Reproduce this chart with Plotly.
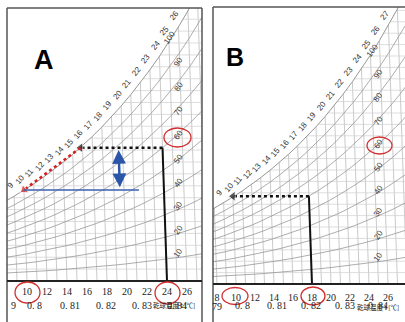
import numpy as np
import plotly.graph_objects as go

W, H = 405, 322
P_ATM = 101.325

# saturation vapour pressure table (kPa) at 1 degC steps
table_t = list(range(5, 31))
table_ps = [0.8726, 0.9354, 1.0021, 1.0730, 1.1482, 1.2282, 1.3129, 1.4028,
            1.4981, 1.5990, 1.7058, 1.8188, 1.9384, 2.0647, 2.1983, 2.3393,
            2.4882, 2.6453, 2.8111, 2.9858, 3.1699, 3.3639, 3.5681, 3.7831,
            4.0092, 4.2467]

rh_levels = [10, 20, 30, 40, 50, 60, 70, 80, 90]
rh_labels = ["10", "20", "30", "40", "50", "60", "70", "80", "90", "100"]
hum_lines = list(range(1, 26))          # g/kg grid
wetbulb_A = list(range(9, 27))
wetbulb_B = list(range(9, 28))
ticks_A = [10, 12, 14, 16, 18, 20, 22, 24, 26]
ticks_B = [8, 10, 12, 14, 16, 18, 20, 22, 24, 26]
sv_text = ["0. 8", "0. 81", "0. 82", "0. 83", "0. 84"]
sv_t = [10.7, 14.3, 17.9, 21.5, 25.0]

# process values
A_dry, A_w, A_dew = 24.0, 11.2, 15.8      # start state, humidity g/kg, dew point
A_cool_t, A_cool_w, A_blue_end = 10.0, 7.65, 21.5
A_dbl_t, A_dbl_top, A_dbl_bot = 19.6, 11.0, 7.75
B_dry, B_w, B_dew = 18.0, 7.7, 10.0


def w_of(phi, ps):
    return 622.0 * phi * ps / (P_ATM - phi * ps)


panels = {
    "A": dict(xa="x", ya="y", xpx=(7, 202), ypx=(8, 281), t0=8.0, pxdeg=10.0,
              pxw=11.9, slant=0.04, wb=wetbulb_A, ticks=ticks_A,
              wbshift=(-4, 11), rhx=25.1, rh100x=24.3),
    "B": dict(xa="x2", ya="y2", xpx=(213, 405), ypx=(7, 284), t0=7.58, pxdeg=9.5,
              pxw=11.4, slant=0.042, wb=wetbulb_B, ticks=ticks_B,
              wbshift=(-4, 10), rhx=24.95, rh100x=24.4),
}

fig = go.Figure()
annotations = []
shapes = []
GRID = "#bdbdbd"
CURVE = "#929292"

for key, p in panels.items():
    xa, ya, s = p["xa"], p["ya"], p["slant"]
    xr = (p["t0"], p["t0"] + (p["xpx"][1] - p["xpx"][0]) / p["pxdeg"])
    yr = (0, (p["ypx"][1] - p["ypx"][0]) / p["pxw"])
    p["xr"], p["yr"] = xr, yr

    def cx(t, w, s=s):
        return t - s * w

    # dry bulb lines
    vx, vy = [], []
    for t in table_t:
        vx += [cx(t, 0), cx(t, 30), None]
        vy += [0, 30, None]
    fig.add_trace(go.Scatter(x=vx, y=vy, mode="lines", xaxis=xa, yaxis=ya,
                             line=dict(color=GRID, width=0.8), hoverinfo="skip"))
    # humidity ratio lines
    hx, hy = [], []
    for w in hum_lines:
        hx += [xr[0] - 1, xr[1] + 1, None]
        hy += [w, w, None]
    fig.add_trace(go.Scatter(x=hx, y=hy, mode="lines", xaxis=xa, yaxis=ya,
                             line=dict(color="#cfcfcf", width=0.7), hoverinfo="skip"))
    # relative humidity curves
    for rh in rh_levels:
        ws = [w_of(rh / 100, ps) for ps in table_ps]
        fig.add_trace(go.Scatter(x=[cx(t, w) for t, w in zip(table_t, ws)], y=ws,
                                 mode="lines", xaxis=xa, yaxis=ya,
                                 line=dict(color=CURVE, width=0.75), hoverinfo="skip"))
    # mask above saturation + saturation curve
    wsat = [w_of(1.0, ps) for ps in table_ps]
    sx = [cx(t, w) for t, w in zip(table_t, wsat)]
    mx = sx + [sx[-1], xr[0] - 5, xr[0] - 5]
    my = wsat + [40, 40, wsat[0]]
    fig.add_trace(go.Scatter(x=mx, y=my, mode="lines", fill="toself",
                             fillcolor="white", line=dict(width=0),
                             xaxis=xa, yaxis=ya, hoverinfo="skip"))
    fig.add_trace(go.Scatter(x=sx, y=wsat, mode="lines", xaxis=xa, yaxis=ya,
                             line=dict(color="#8a8a8a", width=0.9), hoverinfo="skip"))

    # wet bulb labels on the saturation curve
    for t in p["wb"]:
        w = wsat[table_t.index(t)]
        annotations.append(dict(x=cx(t, w), y=w, xref=xa, yref=ya, text=str(t),
                                showarrow=False, textangle=-50,
                                xshift=p["wbshift"][0], yshift=p["wbshift"][1],
                                font=dict(family="Liberation Sans", size=8, color="#333")))
    # RH labels
    ps25 = table_ps[table_t.index(25)]
    for i, lab in enumerate(rh_labels):
        phi = (i + 1) / 10
        w = w_of(phi, ps25)
        xpos = p["rhx"] if lab != "100" else p["rh100x"]
        annotations.append(dict(x=xpos, y=w, xref=xa, yref=ya, text=lab,
                                showarrow=False, textangle=-55, yshift=4,
                                font=dict(family="Liberation Sans", size=8, color="#333")))
    # second row labels (specific volume)
    for txt, t in zip(sv_text, sv_t):
        annotations.append(dict(x=t, y=1 - 313 / H, xref=xa, yref="paper", text=txt,
                                showarrow=False,
                                font=dict(family="Liberation Serif", size=10, color="#222")))

# ---- panel A process lines ----
sA = panels["A"]["slant"]
fig.add_trace(go.Scatter(x=[A_dry, A_dry - sA * A_w], y=[0, A_w], mode="lines",
                         xaxis="x", yaxis="y", line=dict(color="#111", width=2)))
fig.add_trace(go.Scatter(x=[A_dry - sA * A_w, A_dew - sA * A_w], y=[A_w, A_w],
                         mode="lines+markers", xaxis="x", yaxis="y",
                         line=dict(color="#111", width=2.6, dash="dot"),
                         marker=dict(symbol="triangle-left", size=[0, 9], color="#111")))
fig.add_trace(go.Scatter(x=[A_dew - sA * A_w, A_cool_t - sA * A_cool_w],
                         y=[A_w, A_cool_w], mode="lines+markers", xaxis="x", yaxis="y",
                         line=dict(color="#d62020", width=2.6, dash="dot"),
                         marker=dict(symbol="triangle-up", size=[0, 9], color="#d62020",
                                     angleref="previous")))
fig.add_trace(go.Scatter(x=[A_cool_t - sA * A_cool_w, A_blue_end - sA * A_cool_w],
                         y=[A_cool_w, A_cool_w], mode="lines", xaxis="x", yaxis="y",
                         line=dict(color="#3a5fb0", width=1.6)))
annotations.append(dict(x=A_dbl_t - sA * A_dbl_top, y=A_dbl_top,
                        ax=A_dbl_t - sA * A_dbl_bot, ay=A_dbl_bot,
                        xref="x", yref="y", axref="x", ayref="y", text="",
                        showarrow=True, arrowside="end+start", arrowhead=2,
                        arrowsize=1.1, arrowwidth=2.5, arrowcolor="#2a55a8",
                        standoff=0, startstandoff=0))

# ---- panel B process lines ----
sB = panels["B"]["slant"]
fig.add_trace(go.Scatter(x=[B_dry, B_dry - sB * B_w], y=[0, B_w], mode="lines",
                         xaxis="x2", yaxis="y2", line=dict(color="#111", width=2)))
fig.add_trace(go.Scatter(x=[B_dry - sB * B_w, B_dew - sB * B_w], y=[B_w, B_w],
                         mode="lines+markers", xaxis="x2", yaxis="y2",
                         line=dict(color="#111", width=2.6, dash="dot"),
                         marker=dict(symbol="triangle-left", size=[0, 9], color="#111")))


def px2paper(x, y):
    return x / W, 1 - y / H


# panel frames
for key, p in panels.items():
    x0, x1 = p["xpx"]
    y0, y1 = p["ypx"]
    a = px2paper(x0, y0)
    b = px2paper(x1, y0)
    shapes.append(dict(type="line", xref="paper", yref="paper", x0=a[0], y0=a[1],
                       x1=b[0], y1=b[1], line=dict(color="#555", width=1.5)))
    shapes.append(dict(type="line", xref="paper", yref="paper", x0=a[0], y0=a[1],
                       x1=a[0], y1=0, line=dict(color="#555", width=1.5)))
    if key == "A":
        shapes.append(dict(type="line", xref="paper", yref="paper", x0=b[0], y0=b[1],
                           x1=b[0], y1=0, line=dict(color="#555", width=1.5)))
    c = px2paper(x0, y1)
    d = px2paper(x1, y1)
    shapes.append(dict(type="line", xref="paper", yref="paper", x0=c[0], y0=c[1],
                       x1=d[0], y1=d[1], line=dict(color="#222", width=2)))

# red circles (centre px, radii px)
circles = [(27.5, 292.5, 12.5, 10.5), (167.5, 293, 12.5, 11), (177.5, 137.5, 13.5, 9.5),
           (235, 296, 13, 8.5), (313, 296, 12, 9), (379.5, 145.5, 12.5, 8.5)]
for cxp, cyp, rx, ry in circles:
    a = px2paper(cxp - rx, cyp - ry)
    b = px2paper(cxp + rx, cyp + ry)
    shapes.append(dict(type="circle", xref="paper", yref="paper", x0=a[0], y0=b[1],
                       x1=b[0], y1=a[1], line=dict(color="#d03030", width=1.3)))

# letters and titles
annotations.append(dict(x=32 / W, y=1 - 43 / H, xref="paper", yref="paper", text="<b>A</b>",
                        showarrow=False, font=dict(family="Liberation Sans", size=27, color="black")))
annotations.append(dict(x=235 / W, y=1 - 41 / H, xref="paper", yref="paper", text="<b>B</b>",
                        showarrow=False, font=dict(family="Liberation Sans", size=25, color="black")))
annotations.append(dict(x=197 / W, y=1 - 305 / H, xref="paper", yref="paper",
                        text="乾球温度 t [℃]", xanchor="right", yanchor="middle",
                        showarrow=False,
                        font=dict(family="Noto Sans CJK JP", size=6.5, color="#222")))
annotations.append(dict(x=401 / W, y=1 - 307 / H, xref="paper", yref="paper",
                        text="乾球温度 t [℃]", xanchor="right", yanchor="middle",
                        showarrow=False,
                        font=dict(family="Noto Sans CJK JP", size=6.5, color="#222")))
annotations.append(dict(x=9 / W, y=1 - 313 / H, xref="paper", yref="paper", text="9",
                        showarrow=False, font=dict(family="Liberation Serif", size=10, color="#222")))
annotations.append(dict(x=217 / W, y=1 - 314 / H, xref="paper", yref="paper", text="79",
                        showarrow=False, font=dict(family="Liberation Serif", size=10, color="#222")))

pA, pB = panels["A"], panels["B"]
axis_common = dict(showgrid=False, zeroline=False, showline=False, ticks="",
                   tickfont=dict(family="Liberation Serif", size=10, color="#222"))
fig.update_layout(
    width=W, height=H, margin=dict(l=0, r=0, t=0, b=0),
    paper_bgcolor="white", plot_bgcolor="white", showlegend=False,
    xaxis=dict(domain=[7 / W, 202 / W], range=list(pA["xr"]), tickvals=pA["ticks"],
               anchor="y", ticklabelstandoff=3, **axis_common),
    yaxis=dict(domain=[1 - 281 / H, 1 - 8 / H], range=list(pA["yr"]), anchor="x",
               showticklabels=False, showgrid=False, zeroline=False),
    xaxis2=dict(domain=[213 / W, 1], range=list(pB["xr"]), tickvals=pB["ticks"],
                anchor="y2", ticklabelstandoff=6, **axis_common),
    yaxis2=dict(domain=[1 - 284 / H, 1 - 7 / H], range=list(pB["yr"]), anchor="x2",
                showticklabels=False, showgrid=False, zeroline=False),
    annotations=annotations, shapes=shapes,
)

fig.write_html("out.html", config={"displayModeBar": False},
               post_script="document.body.style.margin='0px';document.body.style.padding='0px';")
